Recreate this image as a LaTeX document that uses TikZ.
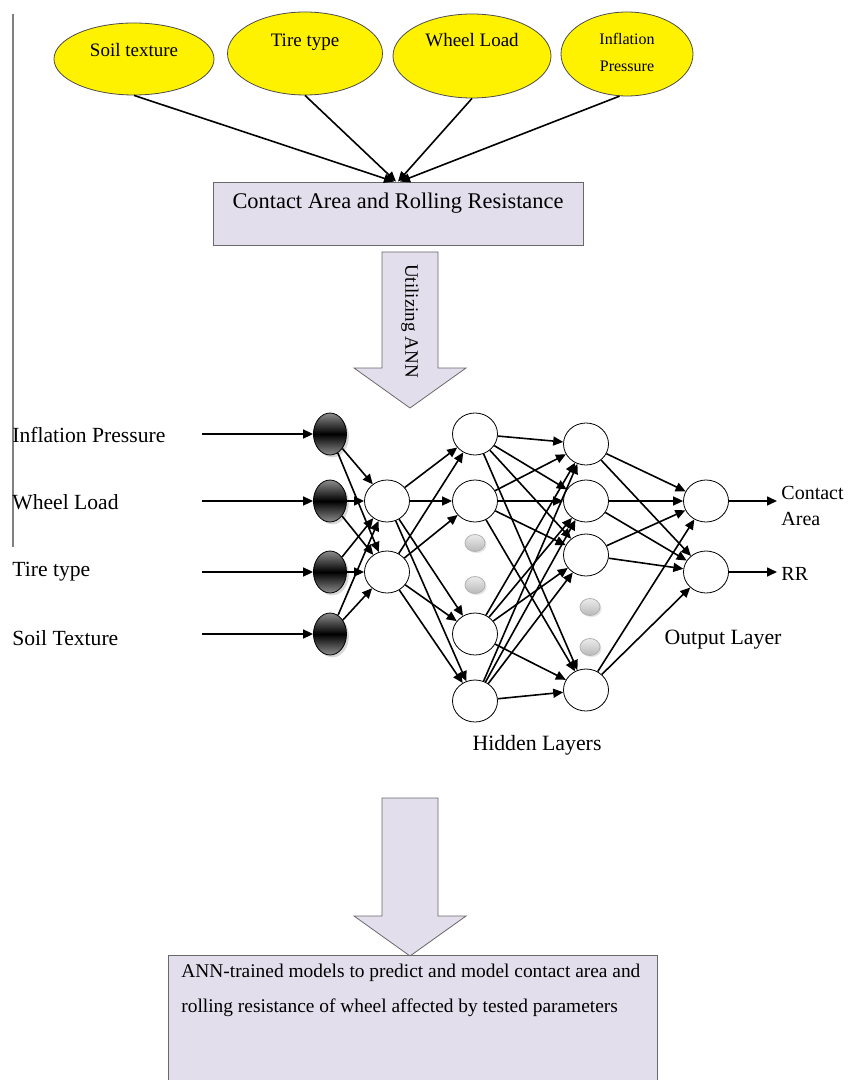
\documentclass[tikz,border=0pt]{standalone}
\usepackage{fontspec}
\setmainfont{Liberation Serif}
\usepackage{tikz}
\usepackage{xcolor}
\usetikzlibrary{shapes.geometric,shadows,arrows.meta}
\definecolor{lavender}{RGB}{227,222,236}
\definecolor{edgegray}{RGB}{105,105,105}
\newcommand{\drawBlockArrow}[3]{
\draw [edgegray,fill=lavender] (#1-28,#2) -- (#1+28,#2) -- (#1+28,#3) -- (#1+56,#3) -- (#1,#3+40) -- (#1-56,#3) -- (#1-28,#3) -- cycle;
}

\begin{document}
\begin{tikzpicture}[x=0.5pt,y=-0.5pt,>={Triangle[length=5pt,width=4.5pt]},
factor/.style={ellipse,draw=black!70,fill=yellow,inner sep=0pt},
resultBox/.style={rectangle,draw=edgegray,fill=lavender,inner sep=0pt},
inputNeuron/.style={ellipse,draw=black,top color=black!45,bottom color=black!45,middle color=black,minimum width=16.5pt,minimum height=21pt,inner sep=0pt,drop shadow={opacity=0.3,shadow xshift=1.2pt,shadow yshift=-1.2pt}},
neuron/.style={ellipse,draw=black,fill=white,minimum width=22.5pt,minimum height=21pt,inner sep=0pt},
skipNeuron/.style={ellipse,draw=gray!60,top color=gray!15,bottom color=gray!55,minimum width=10pt,minimum height=8.5pt,inner sep=0pt,drop shadow={opacity=0.2,shadow xshift=0.8pt,shadow yshift=-0.8pt}},
sideText/.style={anchor=west,inner sep=0pt,font=\fontsize{10.8}{13}\selectfont},
link/.style={->,line width=0.8pt}]
\useasboundingbox (0,0) rectangle (847,1080);
\clip (0,0) rectangle (847,1080);
\fill [white] (0,0) rectangle (847,1080);
\draw [gray,line width=1pt] (13,14) -- (13,547);
%
\node (soilTexture) at (134,59) [factor,minimum width=80pt,minimum height=36pt,label={[yshift=4.5pt,font=\fontsize{9.5}{11}\selectfont]center:Soil texture}] {};
\node (tireType) at (305,53.5) [factor,minimum width=77.5pt,minimum height=41.5pt,label={[yshift=5.75pt,font=\fontsize{9.5}{11}\selectfont]center:Tire type}] {};
\node (wheelLoad) at (472,56) [factor,minimum width=79pt,minimum height=42pt,label={[yshift=8pt,font=\fontsize{9.5}{11}\selectfont]center:Wheel Load}] {};
\node (inflationPressure) at (627,54) [factor,minimum width=66pt,minimum height=42pt,label={[yshift=1pt,align=center,font=\fontsize{8}{13.5}\selectfont]center:Inflation\\Pressure}] {};
\node (contactBox) at (398,213.5) [resultBox,minimum width=185pt,minimum height=31.5pt,label={[yshift=5pt,font=\fontsize{11.2}{13}\selectfont]center:Contact Area and Rolling Resistance}] {};
\draw [link] (soilTexture.south) -- ([xshift=-2pt]contactBox.north);
\draw [link] (tireType.south) -- ([xshift=-1pt]contactBox.north);
\draw [link] (wheelLoad.south) -- (contactBox.north);
\draw [link] (inflationPressure.-100) -- ([xshift=1pt]contactBox.north);
%
\drawBlockArrow{410}{252}{368};
\node (annText) at (410,321) [rotate=-90,font=\fontsize{9.5}{11}\selectfont] {Utilizing ANN};
%
\node (inflationText) at (12,435) [sideText] {Inflation Pressure};
\node (wheelText) at (12,502) [sideText] {Wheel Load};
\node (tireText) at (12,572) [sideText] {Tire type};
\node (soilText) at (12,638) [sideText] {Soil Texture};
\coordinate (feedA) at (202,434); \coordinate (feedB) at (202,501);
\coordinate (feedC) at (202,572); \coordinate (feedD) at (202,634);
\node (inA) at (330,434) [inputNeuron] {};
\node (inB) at (330,501) [inputNeuron] {};
\node (inC) at (330,572) [inputNeuron] {};
\node (inD) at (330,634) [inputNeuron] {};
\draw [link] (feedA) -- (inA); \draw [link] (feedB) -- (inB);
\draw [link] (feedC) -- (inC); \draw [link] (feedD) -- (inD);
%
\node (hidA) at (387,501) [neuron] {};
\node (hidB) at (387,572) [neuron] {};
\node (midA) at (475,434) [neuron] {};
\node (midB) at (475,501) [neuron] {};
\node (gapA) at (475,543) [skipNeuron] {};
\node (gapB) at (475,585) [skipNeuron] {};
\node (midC) at (475,634) [neuron] {};
\node (midD) at (475,701) [neuron] {};
\node (deepA) at (586,444) [neuron] {};
\node (deepB) at (586,501) [neuron] {};
\node (deepC) at (586,555) [neuron] {};
\node (gapC) at (590,607) [skipNeuron] {};
\node (gapD) at (590,647) [skipNeuron] {};
\node (deepD) at (586,690) [neuron] {};
\node (outA) at (706,501) [neuron] {};
\node (outB) at (706,572) [neuron] {};
%
\draw [link] (inA) -- (hidA); \draw [link] (inA) -- (hidB);
\draw [link] (inB) -- (hidA); \draw [link] (inB) -- (hidB);
\draw [link] (inC) -- (hidA); \draw [link] (inC) -- (hidB);
\draw [link] (inD) -- (hidA); \draw [link] (inD) -- (hidB);
%
\draw [link] (hidA) -- (midA); \draw [link] (hidA) -- (midB); \draw [link] (hidA) -- (midC); \draw [link] (hidA) -- (midD);
\draw [link] (hidB) -- (midA); \draw [link] (hidB) -- (midB); \draw [link] (hidB) -- (midC); \draw [link] (hidB) -- (midD);
%
\draw [link] (midA) -- (deepA); \draw [link] (midA) -- (deepB); \draw [link] (midA) -- (deepC); \draw [link] (midA) -- (deepD);
\draw [link] (midB) -- (deepA); \draw [link] (midB) -- (deepB); \draw [link] (midB) -- (deepC); \draw [link] (midB) -- (deepD);
\draw [link] (midC) -- (deepA); \draw [link] (midC) -- (deepB); \draw [link] (midC) -- (deepC); \draw [link] (midC) -- (deepD);
\draw [link] (midD) -- (deepA); \draw [link] (midD) -- (deepB); \draw [link] (midD) -- (deepC); \draw [link] (midD) -- (deepD);
%
\draw [link] (deepA) -- (outA); \draw [link] (deepA) -- (outB);
\draw [link] (deepB) -- (outA); \draw [link] (deepB) -- (outB);
\draw [link] (deepC) -- (outA); \draw [link] (deepC) -- (outB);
\draw [link] (deepD) -- (outA); \draw [link] (deepD) -- (outB);
%
\coordinate (contactEnd) at (777,501); \coordinate (rrEnd) at (777,572);
\draw [link] (outA) -- (contactEnd); \draw [link] (outB) -- (rrEnd);
\node (contactText) at (781,506) [anchor=west,align=left,inner sep=0pt,font=\fontsize{10}{13}\selectfont] {Contact\\Area};
\node (rrText) at (781,574) [anchor=west,inner sep=0pt,font=\fontsize{10}{12}\selectfont] {RR};
\node (outputText) at (723,640) [font=\fontsize{10.9}{13}\selectfont] {Output Layer};
\node (hiddenText) at (537,745) [font=\fontsize{10.9}{13}\selectfont] {Hidden Layers};
%
\drawBlockArrow{410}{798}{916};
\node (modelBox) at (412.5,1025) [resultBox,minimum width=244.5pt,minimum height=70pt] {};
\node (modelText) at (181,990.5) [anchor=west,align=left,inner sep=0pt,font=\fontsize{9.7}{17.5}\selectfont] {ANN-trained models to predict and model contact area and\\rolling resistance of wheel affected by tested parameters};
\end{tikzpicture}
\end{document}
